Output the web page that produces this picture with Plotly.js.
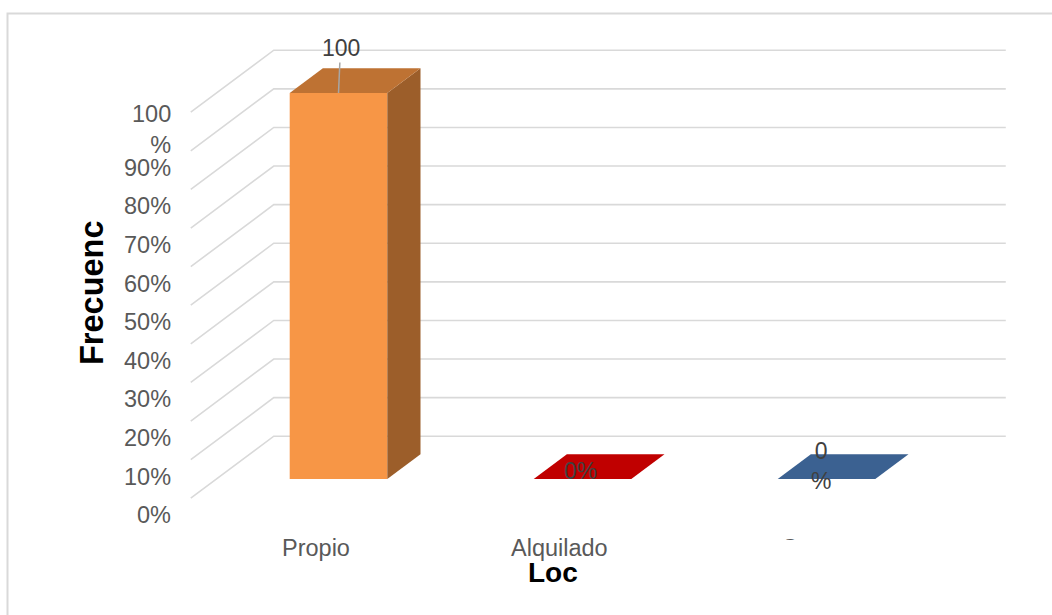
<!DOCTYPE html>
<html>
<head>
<meta charset="utf-8">
<script src="https://cdn.plot.ly/plotly-3.0.1.min.js"></script>
<style>
  html, body { margin: 0; padding: 0; background: #ffffff; }
  #chart { width: 1052px; height: 615px; }
</style>
</head>
<body>
<div id="chart"></div>
<script>
// ---- data ----
const categories = ['Propio', 'Alquilado', 'Otro'];
const values = [100, 0, 0];               // percent
const valueSuffix = ['', '%', '<br>%'];   // how each data label is written
const tickValues = [0, 10, 20, 30, 40, 50, 60, 70, 80, 90, 100];
const tickLabels = ['0%', '10%', '20%', '30%', '40%', '50%', '60%', '70%', '80%', '90%', '100<br>%'];
const xTitle = 'Loc';
const yTitle = 'Frecuenc';

// ---- colours (front / top / side of each column) ----
const frontColors = ['#F79646', '#C00000', '#3B6191'];
const topColors   = ['#BE7233', '#C00000', '#3B6191'];
const sideColors  = ['#9C5E2A', '#900000', '#2C4A6E'];
const gridColor = '#D9D9D9';
const FONT = '"Liberation Sans", Arial, sans-serif';

// ---- oblique 3-D projection ----
// depth 0 = front plane of the columns; the floor's front edge is at FLOOR_FRONT
// and the back wall at WALL; columns run from depth 0 to BAR_DEPTH.
const DEPTH_X = 0.3402;   // category units per unit of depth
const DEPTH_Y = 16.06;    // percent units per unit of depth
const FLOOR_FRONT = -0.31;
const WALL = 0.69;
const BAR_DEPTH = 0.4;
const HALF_W = 0.2;
const WALL_LEFT = -0.5, WALL_RIGHT = categories.length - 0.5;

function proj(X, v, d) { return [X + d * DEPTH_X, v + d * DEPTH_Y]; }

// plot scales: category units and percent units mapped over the full figure
const PX_PER_CAT = 244, CAT0_PX = 338.5;
const PX_PER_PCT = 3.86, PCT0_PX = 479;
const W = 1052, H = 615;
const xRange = [-CAT0_PX / PX_PER_CAT, (W - CAT0_PX) / PX_PER_CAT];
const yRange = [(PCT0_PX - H) / PX_PER_PCT, PCT0_PX / PX_PER_PCT];

const traces = [];

// back wall and side wall gridlines
const gx = [], gy = [];
tickValues.forEach(t => {
  const a = proj(WALL_LEFT, t, FLOOR_FRONT);
  const b = proj(WALL_LEFT, t, WALL);
  const c = proj(WALL_RIGHT, t, WALL);
  gx.push(a[0], b[0], c[0], null);
  gy.push(a[1], b[1], c[1], null);
});
traces.push({
  type: 'scatter', mode: 'lines', x: gx, y: gy,
  line: { color: gridColor, width: 1.6 }, hoverinfo: 'skip', showlegend: false
});

function face(pts, color) {
  const xs = pts.map(p => p[0]), ys = pts.map(p => p[1]);
  xs.push(xs[0]); ys.push(ys[0]);
  return {
    type: 'scatter', mode: 'lines', x: xs, y: ys, fill: 'toself',
    fillcolor: color, line: { width: 0, color: color },
    hoverinfo: 'skip', showlegend: false
  };
}

// columns
values.forEach((v, i) => {
  const l = i - HALF_W, r = i + HALF_W;
  traces.push(face([proj(l, 0, 0), proj(r, 0, 0), proj(r, v, 0), proj(l, v, 0)], frontColors[i]));
  traces.push(face([proj(r, 0, 0), proj(r, 0, BAR_DEPTH), proj(r, v, BAR_DEPTH), proj(r, v, 0)], sideColors[i]));
  traces.push(face([proj(l, v, 0), proj(r, v, 0), proj(r, v, BAR_DEPTH), proj(l, v, BAR_DEPTH)], topColors[i]));
});

const annotations = [];

// value-axis labels at the front end of each side-wall gridline
tickValues.forEach((t, k) => {
  const p = proj(WALL_LEFT, t, FLOOR_FRONT);
  annotations.push({
    x: p[0], y: p[1], xref: 'x', yref: 'y', text: tickLabels[k], showarrow: false,
    xanchor: 'right', yanchor: 'middle', align: 'right', xshift: -18, yshift: -17,
    font: { family: FONT, size: 23.5, color: '#595959' }
  });
});

// category labels under the floor's front edge
categories.forEach((c, i) => {
  const p = proj(i, 0, FLOOR_FRONT);
  annotations.push({
    x: p[0], y: p[1], xref: 'x', yref: 'y', text: c, showarrow: false,
    xanchor: 'center', yanchor: 'middle', xshift: 3, yshift: -50,
    font: { family: FONT, size: 23.5, color: '#595959' }
  });
});

// white box that clips the last category label
annotations.push({
  x: 805 / W, y: 1 - 552 / H, xref: 'paper', yref: 'paper', text: ' ', showarrow: false,
  width: 110, height: 24, bgcolor: '#ffffff', borderpad: 0, borderwidth: 0,
  xanchor: 'center', yanchor: 'middle', font: { size: 10 }
});

// data labels
const labelShift = [[0, 0], [-2, 8], [-6, 13]];
values.forEach((v, i) => {
  const p = proj(i, v, 0);
  const a = {
    x: p[0], y: p[1], xref: 'x', yref: 'y', text: String(v) + valueSuffix[i],
    font: { family: FONT, size: 23, color: '#404040' }, align: 'center'
  };
  if (i === 0) {
    Object.assign(a, { showarrow: true, arrowhead: 0, arrowwidth: 1.5, arrowcolor: '#A6A6A6', ax: 2, ay: -45 });
  } else {
    Object.assign(a, { showarrow: false, xanchor: 'center', yanchor: 'middle', xshift: labelShift[i][0], yshift: labelShift[i][1] });
  }
  annotations.push(a);
});

// axis titles
annotations.push({
  x: 92 / W, y: 1 - 293 / H, xref: 'paper', yref: 'paper', text: '<b>' + yTitle + '</b>',
  textangle: -90, showarrow: false, xanchor: 'center', yanchor: 'middle',
  font: { family: FONT, size: 32.5, color: '#000000' }
});
annotations.push({
  x: 553 / W, y: 1 - 572 / H, xref: 'paper', yref: 'paper', text: '<b>' + xTitle + '</b>',
  showarrow: false, xanchor: 'center', yanchor: 'middle',
  font: { family: FONT, size: 28, color: '#000000' }
});

const layout = {
  width: W, height: H,
  margin: { l: 0, r: 0, t: 0, b: 0, pad: 0 },
  paper_bgcolor: '#ffffff', plot_bgcolor: '#ffffff',
  showlegend: false,
  xaxis: { range: xRange, visible: false, fixedrange: true },
  yaxis: { range: yRange, visible: false, fixedrange: true },
  shapes: [{
    type: 'rect', xref: 'paper', yref: 'paper',
    x0: 7.5 / W, x1: 1.05, y0: -0.05, y1: 1 - 13.5 / H,
    line: { color: '#D9D9D9', width: 2 }, fillcolor: 'rgba(0,0,0,0)', layer: 'below'
  }],
  annotations: annotations
};

Plotly.newPlot('chart', traces, layout, { displayModeBar: false, staticPlot: true });
</script>
</body>
</html>
